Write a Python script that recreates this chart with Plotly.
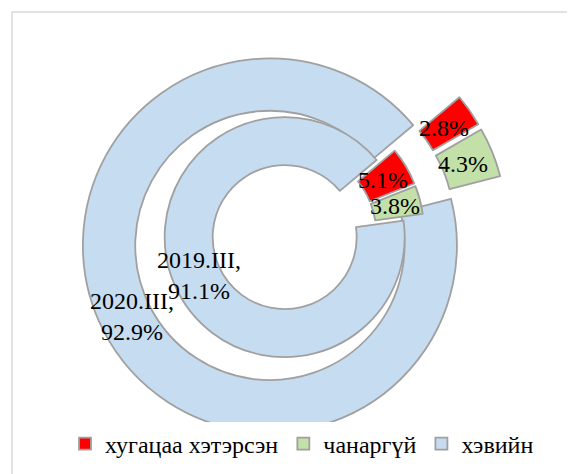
import math
import plotly.graph_objects as go

# ---- data ----
categories = ["хугацаа хэтэрсэн", "чанаргүй", "хэвийн"]
series_names = ["2020.III", "2019.III"]
values_2020 = [2.8, 4.3, 92.9]
values_2019 = [5.1, 3.8, 91.1]

# ---- style / layout ----
colors = ["#ff0000", "#c3e0a9", "#c6dcf1"]
PAGE = 8                   # default body margin of the html page
W, H = 575 - PAGE, 474 - PAGE
CX, CY = 294 - PAGE, 233 - PAGE   # ring centre in figure pixels
ROT = 50                   # angle of first slice
FONT = "Liberation Serif, serif"

rings = [
    dict(name=series_names[0], values=values_2020, r=187, hole=0.72, pull=0.145),
    dict(name=series_names[1], values=values_2019, r=120, hole=0.60, pull=0.085),
]

fig = go.Figure()
annotations = []
for k, ring in enumerate(rings):
    half = ring["r"] * (1 + ring["pull"])
    fig.add_trace(go.Pie(
        labels=categories,
        values=ring["values"],
        name=ring["name"],
        hole=ring["hole"],
        sort=False,
        direction="clockwise",
        rotation=ROT,
        pull=ring["pull"],
        textinfo="none",
        marker=dict(colors=colors, line=dict(color="#a0a0a0", width=1.8)),
        domain=dict(x=[(CX - half) / W, (CX + half) / W],
                    y=[1 - (CY + half) / H, 1 - (CY - half) / H]),
        showlegend=(k == 0),
    ))
    total = sum(ring["values"])
    cum = 0.0
    for i, v in enumerate(ring["values"]):
        mid = math.radians(ROT + 360 * (cum + v / 2) / total)
        cum += v
        rad = ring["r"] * (1 + ring["hole"]) / 2 + 0.8 * ring["pull"] * ring["r"]
        px = CX + rad * math.sin(mid)
        py = CY - rad * math.cos(mid)
        txt = f"{v:.1f}%"
        if i == len(ring["values"]) - 1:
            txt = f"{ring['name']},<br>{v:.1f}%"
        annotations.append(dict(
            x=px / W, y=1 - py / H, xref="paper", yref="paper",
            text=txt, showarrow=False, xanchor="center", yanchor="middle",
            font=dict(family=FONT, size=24, color="black"),
        ))

fig.update_layout(
    width=W, height=H,
    margin=dict(l=0, r=0, t=0, b=0, autoexpand=False),
    paper_bgcolor="white", plot_bgcolor="white",
    font=dict(family=FONT, color="black"),
    annotations=annotations,
    legend=dict(orientation="h", x=(302 - PAGE) / W, xanchor="center",
                y=1 - (444 - PAGE) / H, yanchor="middle",
                font=dict(family=FONT, size=24, color="black"),
                traceorder="normal"),
    shapes=[dict(type="rect", xref="paper", yref="paper",
                 x0=(12 - PAGE) / W, x1=1.05, y0=-0.05, y1=1 - (12 - PAGE) / H,
                 line=dict(color="#d9d9d9", width=1.5), layer="below")],
)

fig.write_html("out.html")
